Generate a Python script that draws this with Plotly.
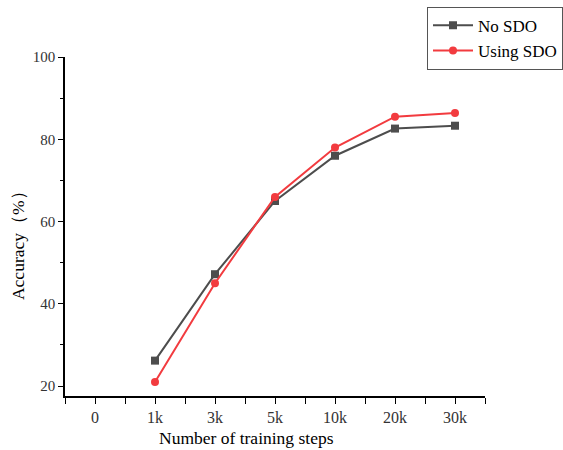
import plotly.graph_objects as go

categories = ["0", "1k", "3k", "5k", "10k", "20k", "30k"]
data_steps = ["1k", "3k", "5k", "10k", "20k", "30k"]
no_sdo = [26.2, 47.2, 65.0, 76.0, 82.6, 83.3]
using_sdo = [21.0, 45.0, 66.0, 78.0, 85.5, 86.4]

xpos = [categories.index(s) for s in data_steps]

font = "Times New Roman, Liberation Serif, DejaVu Serif, serif"

fig = go.Figure()
fig.add_trace(go.Scatter(x=xpos, y=no_sdo, mode="lines+markers", name="No SDO",
                         line=dict(color="#4d4d4d", width=2),
                         marker=dict(symbol="square", size=8, color="#4d4d4d")))
fig.add_trace(go.Scatter(x=xpos, y=using_sdo, mode="lines+markers", name="Using SDO",
                         line=dict(color="#f23b3f", width=2),
                         marker=dict(symbol="circle", size=8, color="#f23b3f")))

fig.update_layout(
    width=563, height=450,
    margin=dict(l=65, r=78, t=57, b=54, autoexpand=False),
    plot_bgcolor="white", paper_bgcolor="white",
    font=dict(family=font, size=15, color="#222"),
    showlegend=True,
    legend=dict(xref="container", yref="container", x=1.0, xanchor="right", y=0.985, yanchor="top",
                bordercolor="#555", borderwidth=1, bgcolor="white",
                font=dict(size=17, family=font, color="black"),
                tracegroupgap=0, itemwidth=40),
    xaxis=dict(range=[-0.5, 6.5], tickmode="array",
               tickvals=list(range(len(categories))), ticktext=categories,
               showline=True, linecolor="black", linewidth=1.5,
               ticks="outside", ticklen=6, tickcolor="black",
               showgrid=False, zeroline=False,
               minor=dict(tickvals=[i - 0.5 for i in range(len(categories) + 1)],
                          ticks="outside", ticklen=6, tickcolor="black", showgrid=False),
               tickfont=dict(size=16, family=font, color="#333")),
    yaxis=dict(range=[17.6, 100], tickvals=[20, 40, 60, 80, 100],
               showline=True, linecolor="black", linewidth=1.5,
               ticks="outside", ticklen=5, tickcolor="black",
               showgrid=False, zeroline=False,
               minor=dict(tickvals=[30, 50, 70, 90], ticks="outside", ticklen=3, tickcolor="black", showgrid=False),
               tickfont=dict(size=15, family=font, color="#333")),
    annotations=[
        dict(text="Number of training steps", xref="paper", yref="paper", x=0.431, y=-0.124,
             xanchor="center", yanchor="middle", showarrow=False,
             font=dict(size=17.5, family=font, color="black")),
        dict(text="Accuracy（%）", xref="paper", yref="paper", x=-0.112, y=0.457,
             xanchor="center", yanchor="middle", showarrow=False, textangle=-90,
             font=dict(size=17.5, family=font, color="black")),
    ],
)

fig.write_html("out.html")
